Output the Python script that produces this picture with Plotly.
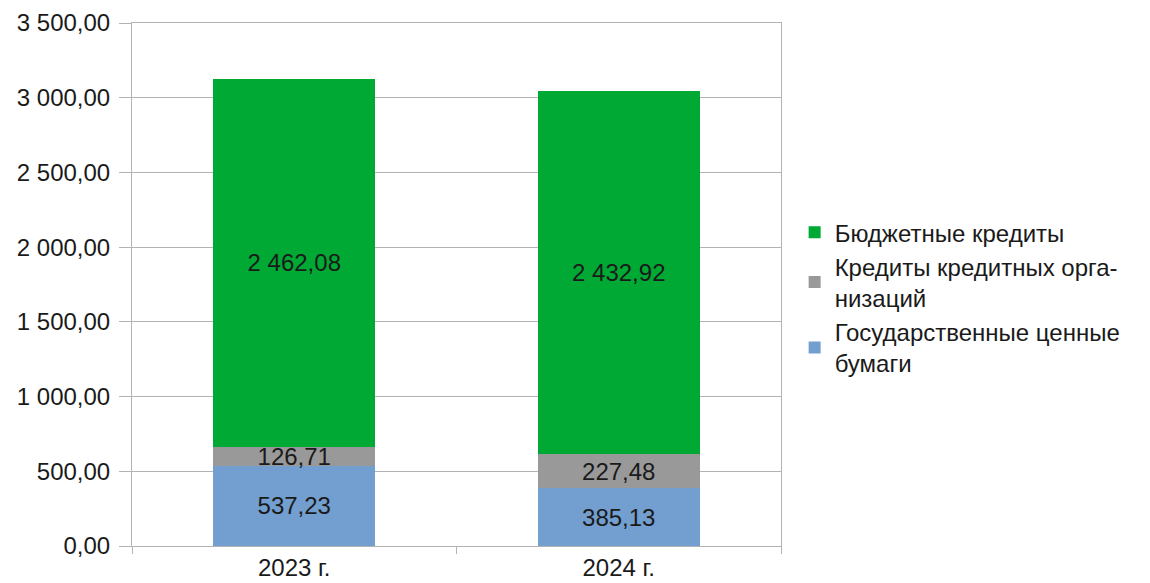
import plotly.graph_objects as go

years = ["2023 г.", "2024 г."]
gov_securities = [537.23, 385.13]
bank_credits = [126.71, 227.48]
budget_credits = [2462.08, 2432.92]

series_names = [
    "Государственные ценные<br>бумаги",
    "Кредиты кредитных орга-<br>низаций",
    "Бюджетные кредиты",
]
series_colors = ["#729fcf", "#999999", "#00a933"]

FONT = "Liberation Sans, Arial, sans-serif"
GRID = "#b3b3b3"
FS = 24

fig = go.Figure()
for name, vals, color in zip(series_names, [gov_securities, bank_credits, budget_credits], series_colors):
    fig.add_trace(go.Bar(
        x=years,
        y=vals,
        name=name,
        marker=dict(color=color, line=dict(width=0)),
        texttemplate="%{y:,.2f}",
        textposition="inside",
        insidetextanchor="middle",
        textangle=0,
        constraintext="none",
        textfont=dict(family=FONT, size=FS, color="#1a1a1a"),
    ))

# the page body adds 8px around the figure, so margins are shifted by that
fig.update_layout(
    barmode="stack",
    bargap=0.5,
    separators=", ",
    width=1142,
    height=575,
    margin=dict(l=124, r=369, t=15, b=37),
    paper_bgcolor="white",
    plot_bgcolor="white",
    font=dict(family=FONT, size=FS, color="#1a1a1a"),
    legend=dict(
        traceorder="reversed",
        x=1.021, xanchor="left",
        y=0.475, yanchor="middle",
        font=dict(family=FONT, size=FS, color="#1a1a1a"),
        tracegroupgap=0,
    ),
    yaxis=dict(
        range=[0, 3500],
        dtick=500,
        tickformat=",.2f",
        automargin=False,
        showgrid=True,
        gridcolor=GRID,
        gridwidth=1,
        zeroline=False,
        showline=True,
        linecolor=GRID,
        linewidth=1,
        mirror=True,
        ticks="outside",
        ticklen=12,
        tickcolor=GRID,
        ticklabelstandoff=4,
    ),
    xaxis=dict(
        automargin=False,
        showline=True,
        linecolor=GRID,
        linewidth=1,
        mirror=True,
        ticks="outside",
        tickson="boundaries",
        ticklen=7,
        tickcolor=GRID,
        showgrid=False,
    ),
)

fig.write_html("out.html")
